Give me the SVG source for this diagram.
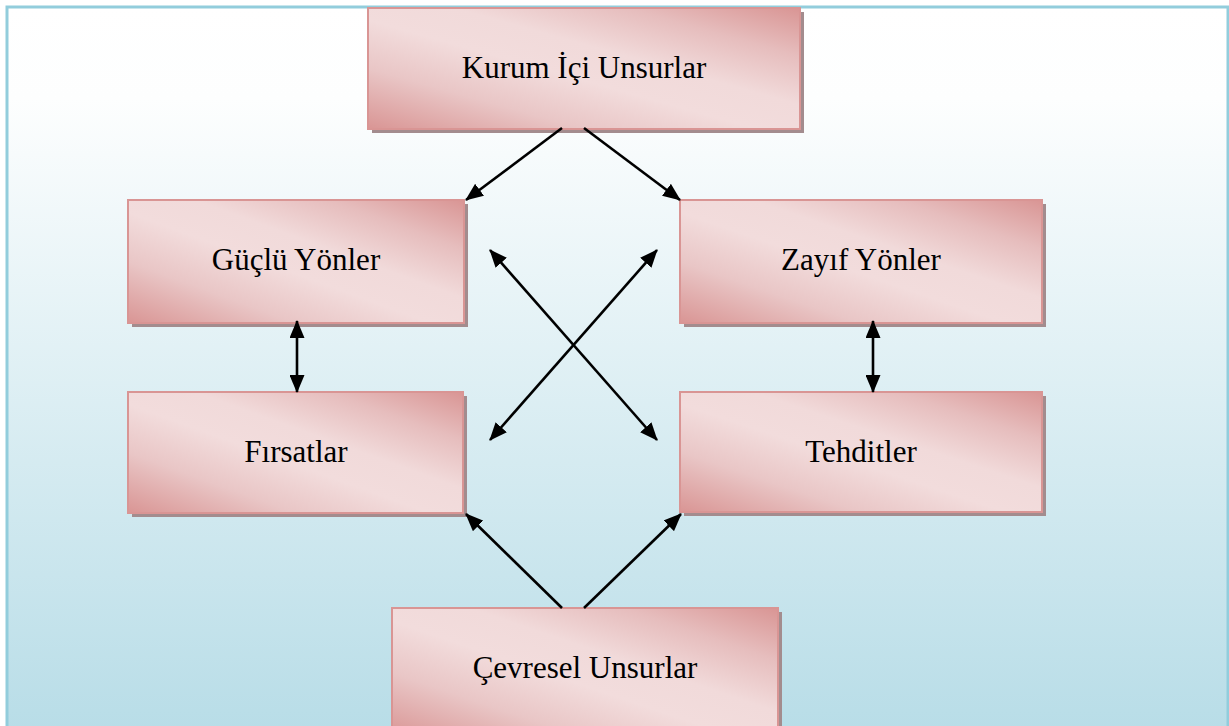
<svg xmlns="http://www.w3.org/2000/svg" width="1229" height="726" viewBox="0 0 1229 726">
<defs>
<linearGradient id="bg" x1="0" y1="0" x2="0" y2="1">
<stop offset="0" stop-color="#FFFFFF"/>
<stop offset="0.12" stop-color="#FDFEFE"/>
<stop offset="1" stop-color="#B4DBE6"/>
</linearGradient>
<linearGradient id="box" x1="0" y1="1" x2="1" y2="0">
<stop offset="0" stop-color="#D99594"/>
<stop offset="0.25" stop-color="#E9C6C6"/>
<stop offset="0.45" stop-color="#F2DCDC"/>
<stop offset="0.6" stop-color="#F1DADA"/>
<stop offset="0.8" stop-color="#E6BDBD"/>
<stop offset="1" stop-color="#D99594"/>
</linearGradient>
<marker id="ah" viewBox="0 0 18 15" refX="17" refY="7.5" markerWidth="18" markerHeight="15" markerUnits="userSpaceOnUse" orient="auto-start-reverse">
<path d="M0,0 L18,7.5 L0,15 z" fill="#000"/>
</marker>
</defs>
<style>
.shadow{fill:#A38C8E;}
.node{fill:url(#box);stroke:#D99594;stroke-width:2;}
.lbl{font-family:"Liberation Serif","Times New Roman",serif;font-size:31px;fill:#000;text-anchor:middle;}
.conn line{stroke:#000;stroke-width:2.6;}
</style>
<rect id="frame" x="7" y="7" width="1221" height="760" fill="url(#bg)" stroke="#92CDDC" stroke-width="3"/>

<g id="kurum">
<rect class="shadow" x="372" y="12" width="432" height="121"/>
<rect class="node" x="368" y="8" width="432" height="121"/>
<text class="lbl" x="584" y="78">Kurum İçi Unsurlar</text>
</g>
<g id="guclu">
<rect class="shadow" x="132" y="204" width="336" height="123"/>
<rect class="node" x="128" y="200" width="336" height="123"/>
<text class="lbl" x="296" y="270">Güçlü Yönler</text>
</g>
<g id="zayif">
<rect class="shadow" x="684" y="204" width="362" height="123"/>
<rect class="node" x="680" y="200" width="362" height="123"/>
<text class="lbl" x="861" y="270">Zayıf Yönler</text>
</g>
<g id="firsatlar">
<rect class="shadow" x="132" y="396" width="335" height="121"/>
<rect class="node" x="128" y="392" width="335" height="121"/>
<text class="lbl" x="296" y="462">Fırsatlar</text>
</g>
<g id="tehditler">
<rect class="shadow" x="684" y="396" width="362" height="120"/>
<rect class="node" x="680" y="392" width="362" height="120"/>
<text class="lbl" x="861" y="462">Tehditler</text>
</g>
<g id="cevresel">
<rect class="shadow" x="396" y="612" width="386" height="130"/>
<rect class="node" x="392" y="608" width="386" height="130"/>
<text class="lbl" x="585" y="678">Çevresel Unsurlar</text>
</g>

<g id="connectors" class="conn">
<line x1="562" y1="128" x2="466" y2="200" marker-end="url(#ah)"/>
<line x1="584" y1="128" x2="680" y2="200" marker-end="url(#ah)"/>
<line x1="490" y1="250" x2="657" y2="440" marker-start="url(#ah)" marker-end="url(#ah)"/>
<line x1="657" y1="250" x2="490" y2="440" marker-start="url(#ah)" marker-end="url(#ah)"/>
<line x1="297" y1="321" x2="297" y2="392" marker-start="url(#ah)" marker-end="url(#ah)"/>
<line x1="873" y1="321" x2="873" y2="392" marker-start="url(#ah)" marker-end="url(#ah)"/>
<line x1="562" y1="608" x2="466" y2="514" marker-end="url(#ah)"/>
<line x1="584" y1="608" x2="681" y2="514" marker-end="url(#ah)"/>
</g>
</svg>
